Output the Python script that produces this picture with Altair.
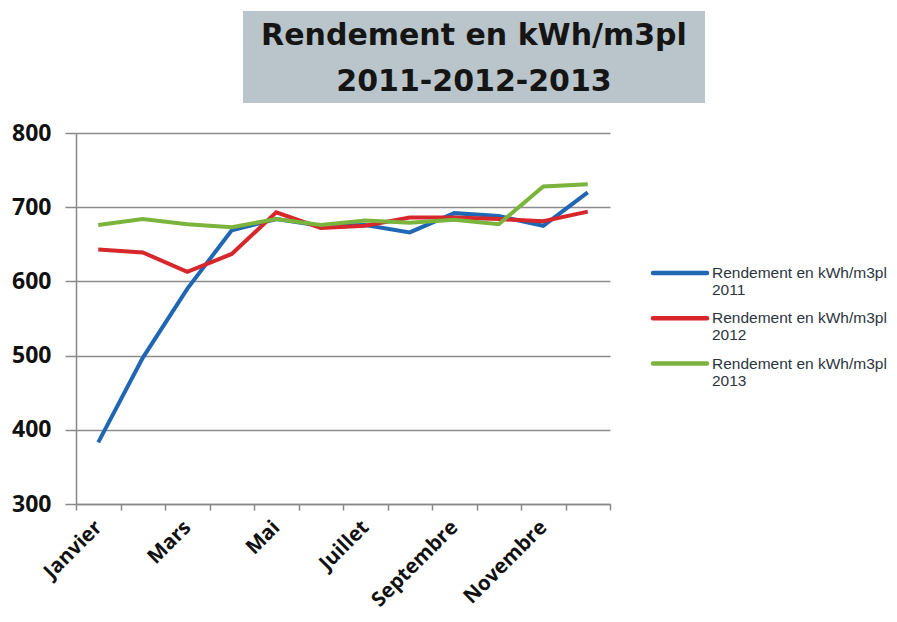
import altair as alt
import pandas as pd

months = ["Janvier", "Février", "Mars", "Avril", "Mai", "Juin",
          "Juillet", "Août", "Septembre", "Octobre", "Novembre", "Décembre"]
labelled_months = ["Janvier", "Mars", "Mai", "Juillet", "Septembre", "Novembre"]
series_names = ["Rendement en kWh/m3pl 2011",
                "Rendement en kWh/m3pl 2012",
                "Rendement en kWh/m3pl 2013"]
v2011 = [383, 497, 590, 669, 684, 675, 676, 666, 692, 688, 675, 720]
v2012 = [643, 639, 613, 637, 693, 672, 675, 686, 686, 684, 681, 694]
v2013 = [676, 684, 677, 673, 684, 676, 682, 679, 683, 677, 728, 731]
series_colors = ["#1f66b3", "#d7262c", "#7ab43c"]
y_ticks = [300, 400, 500, 600, 700, 800]
title_text = "Rendement en kWh/m3pl\n2011-2012-2013"

rows = []
for name, vals in zip(series_names, [v2011, v2012, v2013]):
    for m, v in zip(months, vals):
        rows.append({"Mois": m, "Valeur": v, "Série": name})
df = pd.DataFrame(rows)

legend_df = pd.DataFrame({
    "Série": series_names,
    "Libellé": [n.rsplit(" ", 1)[0] + "\n" + n.rsplit(" ", 1)[1] for n in series_names],
})

color_scale = alt.Scale(domain=series_names, range=series_colors)
label_expr = "indexof(" + str(labelled_months) + ", datum.value) >= 0 ? datum.value : ''"

lines = alt.Chart(df).mark_line(strokeWidth=4).encode(
    x=alt.X("Mois:N", sort=months, bandPosition=0.5,
            scale=alt.Scale(type="band", paddingInner=0, paddingOuter=0),
            axis=alt.Axis(title=None, labelAngle=-45, labelAlign="right",
                          labelBaseline="middle", labelExpr=label_expr,
                          tickBand="extent", grid=False, tickSize=6,
                          labelPadding=14, labelFont="Open Sans",
                          labelFontWeight="bold", labelFontSize=20.5,
                          labelColor="#111111", tickColor="#888888",
                          domainColor="#888888", domainWidth=1.5,
                          tickWidth=1.5)),
    y=alt.Y("Valeur:Q",
            scale=alt.Scale(domain=[300, 800], nice=False, zero=False),
            axis=alt.Axis(title=None, values=y_ticks, tickSize=11,
                          labelPadding=14, labelFont="Open Sans",
                          labelFontWeight="bold", labelFontSize=23,
                          labelColor="#111111", gridColor="#8c8c8c",
                          gridWidth=1.5, tickColor="#888888",
                          domainColor="#888888", domainWidth=1.5,
                          tickWidth=1.5)),
    color=alt.Color("Série:N", scale=color_scale, legend=None),
)

legend_y = alt.Y("Série:N", sort=series_names, axis=None,
                 scale=alt.Scale(type="point", domain=series_names,
                                 range=[140, 230.6], padding=0))
legend_sym = alt.Chart(legend_df).mark_rule(strokeWidth=4.5, strokeCap="round").encode(
    x=alt.value(577), x2=alt.value(631), y=legend_y,
    color=alt.Color("Série:N", scale=color_scale, legend=None),
)
legend_txt = alt.Chart(legend_df).mark_text(
    align="left", baseline="middle", lineBreak="\n", lineHeight=17,
    font="Liberation Sans", fontSize=15.5, color="#2b3541",
).encode(
    x=alt.value(636), y=legend_y, text="Libellé:N",
)

one = alt.Data(values=[{"k": 1}])
title_box = alt.Chart(one).mark_rect(color="#b9c5ca").encode(
    x=alt.value(167), x2=alt.value(629),
    y=alt.value(-122), y2=alt.value(-30),
)
title_txt = alt.Chart(one).mark_text(
    font="DejaVu Sans", fontWeight="bold", fontSize=30, align="center",
    baseline="alphabetic", lineBreak="\n", lineHeight=46, color="#151515",
).encode(
    x=alt.value(398), y=alt.value(-88), text=alt.value(title_text),
)

chart = alt.layer(title_box, title_txt, lines, legend_sym, legend_txt).resolve_scale(
    y="independent"
).properties(
    width=534, height=371, autosize="none",
    padding={"left": 68, "top": 125, "right": 279, "bottom": 110},
    background="white",
).configure_view(stroke=None)

chart.save("out.html", embed_options={"renderer": "svg", "actions": False})
